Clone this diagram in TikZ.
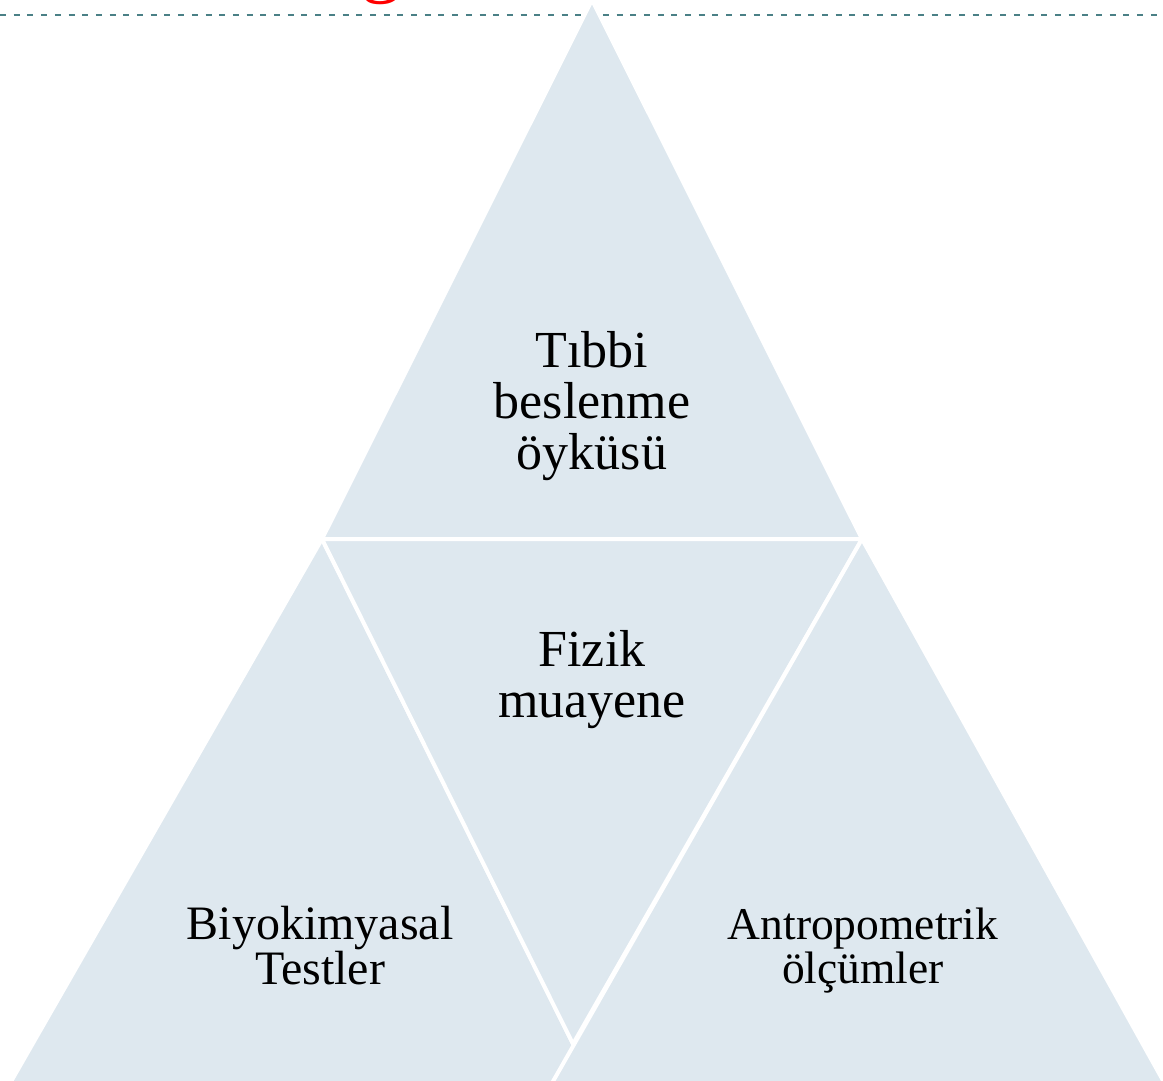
\documentclass[tikz,border=0pt]{standalone}
\usepackage{fontspec}
\setmainfont{Liberation Serif}
\definecolor{tri}{RGB}{222,232,239}
\definecolor{dashc}{RGB}{74,128,134}
\tikzset{
  seg/.style={fill=tri, draw=white, line width=4pt, line join=miter},
  lab/.style={align=center, inner sep=0pt, text=black},
}
\begin{document}
\begin{tikzpicture}[x=1pt,y=-1pt]
\useasboundingbox (0,0) rectangle (1163,1081);
\begin{scope}
\clip (0,0) rectangle (1163,1081);
% red title letter, cut off at the top
\node[text=red, font=\fontsize{80}{80}\selectfont, anchor=base, inner sep=0pt] (title) at (381,-12) {g};
% dashed rule
\coordinate (dl) at (0,15);
\coordinate (dr) at (1163,15);
\draw[dashc, line width=2.5pt, dash pattern=on 6pt off 7.7pt] (dl) -- (dr);
% segments
\coordinate (A) at (592,0);
\coordinate (B) at (322,539);
\coordinate (C) at (862,539);
\coordinate (V) at (573,1044);
\fill[seg] (A) -- (B) -- (C) -- cycle;
\fill[seg] (B) -- (-11,1120) -- (611,1120) -- cycle;
\fill[seg] (B) -- (C) -- (V) -- cycle;
\fill[seg] (C) -- (531,1120) -- (1185,1120) -- cycle;
\end{scope}
% labels
\node[lab, font=\fontsize{52}{51}\selectfont] (top) at (592,406) {Tıbbi\\beslenme\\öyküsü};
\node[lab, font=\fontsize{52}{51}\selectfont] (mid) at (592,680) {Fizik\\muayene};
\node[lab, font=\fontsize{48}{45}\selectfont] (left) at (320,946) {Biyokimyasal\\Testler};
\node[lab, font=\fontsize{45.5}{44}\selectfont] (right) at (863,951) {Antropometrik\\ölçümler};
\end{tikzpicture}
\end{document}
